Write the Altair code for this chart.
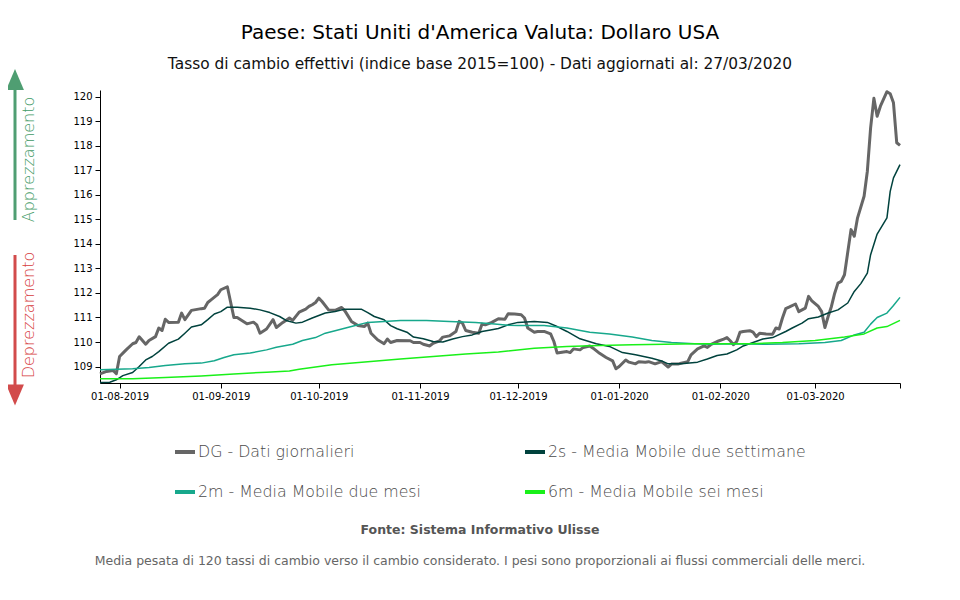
import altair as alt
import pandas as pd

BASE_DATE = "2019-08-01"  # day offsets below are days from this date

title_text = "Paese: Stati Uniti d'America Valuta: Dollaro USA"
subtitle_text = "Tasso di cambio effettivi (indice base 2015=100) - Dati aggiornati al: 27/03/2020"
source_text = "Fonte: Sistema Informativo Ulisse"
note_text = ("Media pesata di 120 tassi di cambio verso il cambio considerato. "
             "I pesi sono proporzionali ai flussi commerciali delle merci.")
up_text = "Apprezzamento"
down_text = "Deprezzamento"

series_names = ["DG - Dati giornalieri", "2s - Media Mobile due settimane",
                "2m - Media Mobile due mesi", "6m - Media Mobile sei mesi"]
series_colors = ["#666666", "#00423d", "#17a88c", "#19f019"]
series_widths = [3, 1.5, 1.5, 1.5]

dg_day = [-6, -4, -2, -1, 0, 2, 4, 5, 6, 8, 9, 11, 12, 13, 14, 15, 18, 19, 20, 22, 25, 26, 27, 28, 30, 31,
          33, 35, 36, 39, 41, 42, 43, 45, 47, 48, 50, 52, 53, 55, 57, 58, 59, 60, 61, 62, 64, 66, 68, 69,
          71, 73, 75, 76, 77, 79, 81, 82, 83, 85, 89, 90, 92, 93, 95, 96, 98, 99, 101, 103, 104, 105, 106,
          108, 110, 111, 112, 114, 116, 118, 119, 121, 123, 124, 125, 127, 128, 130, 132, 133, 134, 136,
          137, 138, 139, 141, 142, 144, 145, 147, 149, 151, 152, 153, 155, 156, 158, 159, 161, 162, 164,
          166, 168, 169, 171, 172, 174, 175, 177, 179, 180, 181, 183, 185, 186, 187, 188, 189, 190, 191,
          193, 194, 195, 196, 198, 200, 201, 202, 203, 204, 205, 207, 208, 210, 211, 212, 214, 215, 216,
          217, 218, 219, 220, 221, 222, 224, 225, 226, 228, 229, 230, 231, 232, 233, 235, 236, 237, 238, 239]
dg_val = [108.70, 108.80, 108.84, 108.71, 109.41, 109.68, 109.93, 109.98, 110.21, 109.91, 110.06, 110.22,
          110.57, 110.47, 110.93, 110.80, 110.81, 111.18, 110.91, 111.29, 111.36, 111.38, 111.61, 111.72,
          111.93, 112.13, 112.25, 111.00, 111.00, 110.74, 110.81, 110.70, 110.36, 110.53, 110.91, 110.59,
          110.80, 110.98, 110.88, 111.22, 111.34, 111.45, 111.52, 111.61, 111.79, 111.65, 111.31, 111.29,
          111.41, 111.27, 110.84, 110.67, 110.63, 110.77, 110.36, 110.09, 109.93, 110.12, 109.98, 110.06,
          110.05, 109.98, 109.98, 109.91, 109.84, 109.95, 110.05, 110.20, 110.25, 110.43, 110.84, 110.77,
          110.47, 110.40, 110.36, 110.73, 110.70, 110.80, 110.95, 110.93, 111.15, 111.14, 111.11, 110.98,
          110.57, 110.40, 110.43, 110.43, 110.33, 110.02, 109.55, 109.59, 109.61, 109.57, 109.72, 109.68,
          109.78, 109.84, 109.75, 109.54, 109.37, 109.23, 108.91, 109.00, 109.27, 109.18, 109.11, 109.20,
          109.18, 109.20, 109.11, 109.20, 108.98, 109.10, 109.10, 109.14, 109.20, 109.48, 109.72, 109.84,
          109.78, 109.89, 110.02, 110.12, 110.18, 110.05, 109.89, 110.02, 110.40, 110.43, 110.46, 110.40,
          110.22, 110.36, 110.33, 110.32, 110.57, 110.53, 110.98, 111.36, 111.42, 111.55, 111.24, 111.38,
          111.86, 111.68, 111.45, 111.24, 110.59, 111.04, 111.45, 111.99, 112.40, 112.47, 112.74, 114.58,
          114.31, 115.06, 115.94, 116.96, 118.73, 119.93, 119.20, 119.61, 120.20, 120.12, 119.75, 118.12,
          118.01]

s2_day = [-6, -3, -1, 1, 4, 6, 8, 10, 12, 15, 18, 20, 22, 25, 27, 29, 31, 33, 36, 40, 43, 46, 49, 51, 54,
          56, 59, 63, 66, 69, 74, 76, 78, 81, 83, 85, 88, 90, 93, 96, 99, 102, 105, 108, 111, 114, 116, 119,
          122, 127, 131, 134, 137, 141, 143, 146, 150, 154, 158, 163, 166, 168, 172, 177, 180, 183, 186,
          189, 191, 194, 197, 200, 204, 206, 209, 211, 214, 217, 220, 223, 225, 227, 229, 230, 232, 235,
          236, 237, 239]
s2_val = [108.35, 108.36, 108.46, 108.63, 108.76, 109.00, 109.27, 109.41, 109.61, 109.95, 110.12, 110.36,
          110.61, 110.70, 110.91, 111.14, 111.24, 111.42, 111.42, 111.38, 111.31, 111.20, 111.04, 110.88,
          110.77, 110.81, 110.98, 111.18, 111.24, 111.34, 111.34, 111.20, 111.04, 110.91, 110.67, 110.54,
          110.40, 110.20, 110.13, 110.02, 110.00, 110.12, 110.22, 110.29, 110.43, 110.50, 110.55, 110.70,
          110.80, 110.84, 110.80, 110.63, 110.43, 110.13, 110.05, 109.93, 109.82, 109.57, 109.48, 109.34,
          109.23, 109.11, 109.11, 109.18, 109.31, 109.45, 109.51, 109.68, 109.84, 109.98, 110.12, 110.18,
          110.43, 110.57, 110.77, 110.95, 111.02, 111.18, 111.31, 111.59, 112.06, 112.38, 112.81, 113.56,
          114.40, 115.06, 116.14, 116.69, 117.23]

m2_day = [-6, 4, 9, 14, 20, 25, 29, 32, 35, 40, 45, 48, 53, 56, 60, 63, 66, 71, 76, 81, 86, 94, 101, 109,
          114, 119, 122, 130, 137, 144, 150, 157, 163, 169, 176, 181, 188, 198, 208, 216, 221, 225, 228,
          230, 232, 235, 237, 239]
m2_val = [108.87, 108.91, 108.96, 109.04, 109.11, 109.14, 109.24, 109.37, 109.48, 109.55, 109.68, 109.79,
          109.91, 110.06, 110.18, 110.36, 110.46, 110.63, 110.80, 110.84, 110.88, 110.88, 110.84, 110.80,
          110.74, 110.68, 110.67, 110.67, 110.57, 110.40, 110.33, 110.20, 110.06, 109.98, 109.93, 109.91,
          109.93, 109.91, 109.93, 109.98, 110.06, 110.29, 110.40, 110.73, 111.00, 111.18, 111.49, 111.82]

m6_day = [-6, 4, 14, 25, 35, 45, 52, 55, 65, 76, 86, 96, 106, 116, 127, 137, 147, 157, 167, 177, 193, 203,
          213, 222, 228, 232, 235, 239]
m6_val = [108.50, 108.50, 108.55, 108.62, 108.70, 108.77, 108.82, 108.89, 109.07, 109.20, 109.31, 109.41,
          109.51, 109.59, 109.75, 109.82, 109.86, 109.89, 109.91, 109.93, 109.93, 109.98, 110.06, 110.20,
          110.33, 110.57, 110.63, 110.88]

y_ticks = [109, 110, 111, 112, 113, 114, 115, 116, 117, 118, 119, 120]
y_domain = [108.33, 120.27]
x_ticks = [(2019, 8, 1), (2019, 9, 1), (2019, 10, 1), (2019, 11, 1), (2019, 12, 1),
           (2020, 1, 1), (2020, 2, 1), (2020, 3, 1), (2020, 3, 27)]
x_domain = [(2019, 7, 26), (2020, 3, 27)]

FONT = "DejaVu Sans"


def dt(t):
    return alt.DateTime(year=t[0], month=t[1], date=t[2], utc=True)


base = pd.Timestamp(BASE_DATE)
frames = []
for name, days, vals in zip(series_names, [dg_day, s2_day, m2_day, m6_day],
                            [dg_val, s2_val, m2_val, m6_val]):
    d = base + pd.to_timedelta(days, unit="D")
    frames.append(pd.DataFrame({"date": d.strftime("%Y-%m-%d"), "value": vals, "serie": name}))

x_enc = alt.X("date:T",
              scale=alt.Scale(type="utc", domain=[dt(t) for t in x_domain]),
              axis=alt.Axis(title=None, values=[dt(t) for t in x_ticks],
                            labelExpr="utcFormat(datum.value, '%d') == '27' ? '' : utcFormat(datum.value, '%d-%m-%Y')",
                            labelFont=FONT, labelFontSize=10, labelColor="#000",
                            tickSize=5, tickColor="#000", domainColor="#000", grid=False,
                            labelPadding=3))
y_enc = alt.Y("value:Q",
              scale=alt.Scale(domain=y_domain, nice=False, zero=False),
              axis=alt.Axis(title=None, values=y_ticks, format="d", labelFont=FONT,
                            labelFontSize=10, labelColor="#000", tickSize=5, tickColor="#000",
                            domainColor="#000", grid=False, labelPadding=3))

layers = []
for i, f in enumerate(frames):
    layers.append(alt.Chart(f).mark_line(color=series_colors[i], strokeWidth=series_widths[i],
                                         strokeJoin="round").encode(x=x_enc, y=y_enc))


def text_layer(txt, x, y, size, color, weight="normal", font=FONT, angle=0):
    return alt.Chart(pd.DataFrame({"t": [txt]})).mark_text(
        fontSize=size, color=color, fontWeight=weight, font=font, angle=angle,
        align="center", baseline="middle").encode(text="t:N", x=alt.value(x), y=alt.value(y))


one = pd.DataFrame({"k": [0]})
# titles
layers.append(text_layer(title_text, 380, -57, 20, "#000"))
layers.append(text_layer(subtitle_text, 380, -26, 15.4, "#111"))
# arrows
green = "#4f9e72"
red = "#d24b4b"
layers.append(alt.Chart(one).mark_rule(color=green, strokeWidth=3).encode(
    x=alt.value(-85), y=alt.value(-2), y2=alt.value(130)))
layers.append(alt.Chart(one).mark_point(shape="M0,-1L-0.85,1L0.85,1Z", filled=True, size=441,
                                        color=green, opacity=1).encode(x=alt.value(-85), y=alt.value(-10.5)))
layers.append(alt.Chart(one).mark_rule(color=red, strokeWidth=3).encode(
    x=alt.value(-85), y=alt.value(165), y2=alt.value(297)))
layers.append(alt.Chart(one).mark_point(shape="M0,1L-0.85,-1L0.85,-1Z", filled=True, size=441,
                                        color=red, opacity=1).encode(x=alt.value(-85), y=alt.value(305)))
layers.append(text_layer(up_text, -71, 69.5, 16, "#3f9a66", weight=200, angle=270))
layers.append(text_layer(down_text, -71, 225, 16, "#d63c3c", weight=200, angle=270))
# legend
for i, name in enumerate(series_names):
    col, row = i % 2, i // 2
    x0 = 75 + col * 350
    yy = 362 + row * 40
    layers.append(alt.Chart(one).mark_rule(color=series_colors[i], strokeWidth=4).encode(
        x=alt.value(x0), x2=alt.value(x0 + 20), y=alt.value(yy)))
    layers.append(alt.Chart(pd.DataFrame({"t": [name]})).mark_text(
        fontSize=15.8, color="#4a4a4a", font=FONT, fontWeight=200, align="left", baseline="middle").encode(
        text="t:N", x=alt.value(x0 + 23), y=alt.value(yy)))
# footer
layers.append(text_layer(source_text, 380, 440, 12.5, "#555", weight="bold"))
layers.append(text_layer(note_text, 380, 471, 12.5, "#666"))

chart = alt.layer(*layers).properties(
    width=800, height=293,
    padding={"left": 92, "top": 82, "right": 52, "bottom": 205},
    autosize=alt.AutoSizeParams(type="none"),
).configure_view(stroke=None)

chart.save("out.html", embed_options={"renderer": "svg", "actions": False})
